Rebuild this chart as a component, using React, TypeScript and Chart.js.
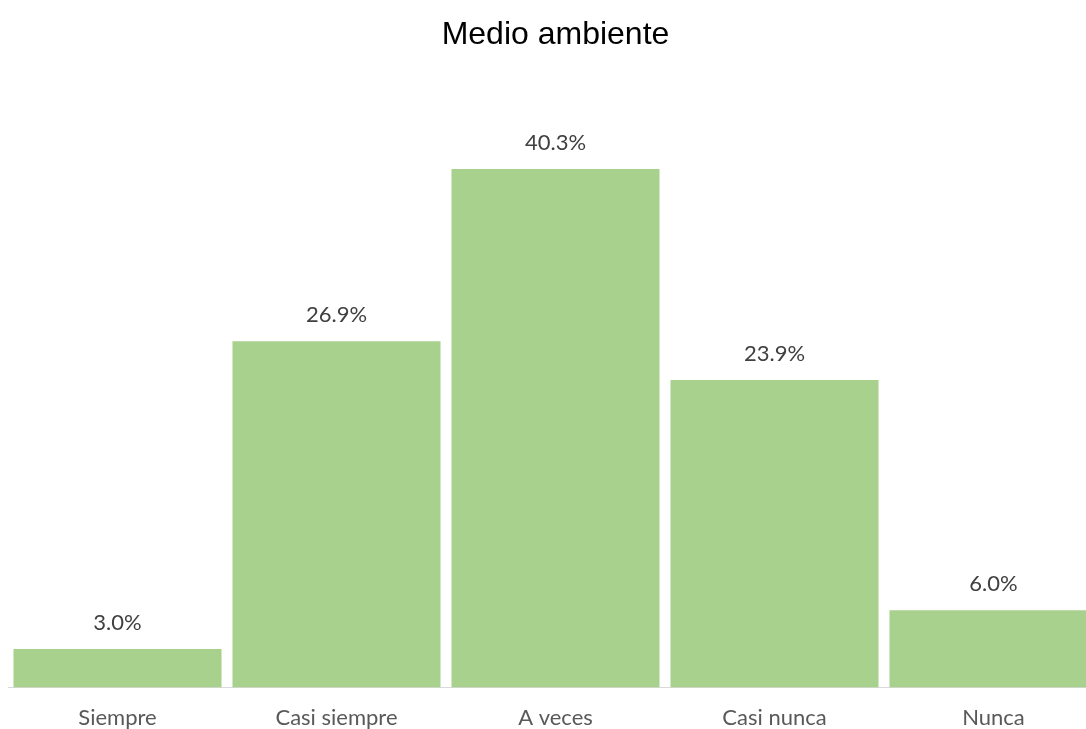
import React, { useEffect, useRef } from "react";
import { Chart, registerables } from "chart.js";

Chart.register(...registerables);

const categories = ["Siempre", "Casi siempre", "A veces", "Casi nunca", "Nunca"];
const values = [3.0, 26.9, 40.3, 23.9, 6.0];
const titleText = "Medio ambiente";

const labelPlugin = {
  id: "barLabels",
  afterDatasetsDraw(chart: any) {
    const ctx = chart.ctx;
    const meta = chart.getDatasetMeta(0);
    ctx.save();
    ctx.font = "22px Lato, 'Open Sans', sans-serif";
    ctx.fillStyle = "#404040";
    ctx.textAlign = "center";
    ctx.textBaseline = "middle";
    meta.data.forEach((bar: any, i: number) => {
      ctx.fillText(values[i].toFixed(1) + "%", bar.x, bar.y - 26);
    });
    ctx.restore();
  },
};

export default function App() {
  const ref = useRef<HTMLCanvasElement>(null);
  useEffect(() => {
    document.documentElement.style.overflow = "hidden";
    document.body.style.margin = "0";
    const chart = new Chart(ref.current!, {
      type: "bar",
      data: {
        labels: categories,
        datasets: [
          {
            data: values,
            backgroundColor: "#A9D18E",
            categoryPercentage: 1,
            barPercentage: 0.95,
          },
        ],
      },
      options: {
        animation: false,
        responsive: false,
        maintainAspectRatio: false,
        layout: { padding: { left: 0, right: 0, top: 0, bottom: 0 } },
        plugins: {
          legend: { display: false },
          tooltip: { enabled: false },
          title: {
            display: true,
            text: titleText,
            color: "#000000",
            font: { family: "'Liberation Sans', Arial, sans-serif", size: 32, weight: "normal" },
            padding: { top: 8, bottom: 54 },
          },
        },
        scales: {
          x: {
            grid: { display: false, drawTicks: false, tickLength: 0 },
            border: { color: "#D9D9D9", width: 1 },
            ticks: {
              color: "#595959",
              padding: 17,
              font: { family: "Lato, 'Open Sans', sans-serif", size: 22 },
            },
          },
          y: {
            display: false,
            min: 0,
            max: 45,
          },
        },
      },
      plugins: [labelPlugin],
    });
    return () => chart.destroy();
  }, []);
  return (
    <div style={{ paddingLeft: 8, paddingTop: 8, width: 1095, height: 740 }}>
      <canvas ref={ref} width={1095} height={740} style={{ display: "block" }} />
    </div>
  );
}
